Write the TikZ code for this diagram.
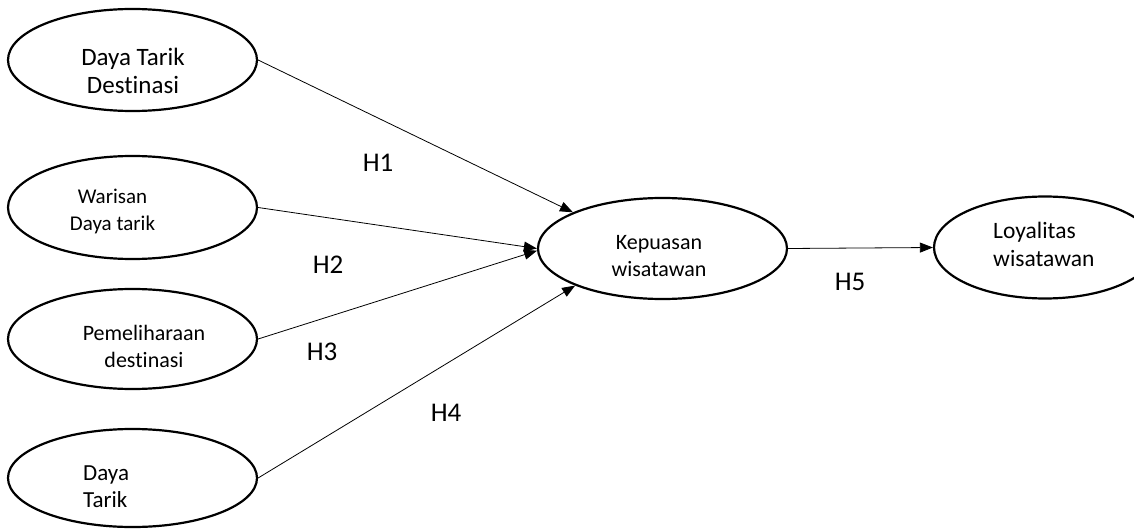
\documentclass[tikz,border=0pt]{standalone}
\usepackage{fontspec}
\setmainfont{Carlito}[Ligatures={NoCommon}]
\usetikzlibrary{shapes.geometric,arrows.meta}
\begin{document}
\begin{tikzpicture}[x=1pt,y=-1pt,
  oval/.style={draw, ellipse, line width=2.2pt, inner sep=0pt},
  lbl/.style={font=\fontsize{23}{27.5}\selectfont, align=center, inner sep=0pt},
  hyp/.style={font=\fontsize{27}{32}\selectfont, anchor=base, inner sep=0pt},
  conn/.style={line width=0.8pt, -{Triangle[length=13pt,width=10pt]}}]
\useasboundingbox (0,0) rectangle (1134,529);
\clip (0,0) rectangle (1134,529);
\node[oval, minimum width=249pt, minimum height=102pt] (e1) at (132.5,60) {};
\node[oval, minimum width=249pt, minimum height=103pt] (e2) at (132.5,207.5) {};
\node[oval, minimum width=249pt, minimum height=100pt] (e3) at (132.5,339) {};
\node[oval, minimum width=249pt, minimum height=98pt] (e4) at (132.5,478) {};
\node[oval, minimum width=249pt, minimum height=101pt] (k) at (662.5,248.5) {};
\node[oval, minimum width=222pt, minimum height=102pt] (L) at (1045,247.5) {};
\node[lbl, font=\fontsize{25}{28}\selectfont] (t1) at (133,71) {Daya Tarik\\Destinasi};
\node[lbl, font=\fontsize{21}{27}\selectfont] (t2) at (112.5,211.5) {Warisan\\Daya tarik};
\node[lbl, font=\fontsize{22}{27}\selectfont] (t3) at (144,346.5) {Pemeliharaan\\destinasi};
\node[lbl, align=left, anchor=west] (t4) at (83,486.5) {Daya\\Tarik};
\node[lbl, font=\fontsize{22}{27}\selectfont] (tk) at (659,256.5) {Kepuasan\\wisatawan};
\node[lbl, font=\fontsize{23.5}{28}\selectfont, align=left, anchor=west] (tL) at (993,244) {Loyalitas\\wisatawan};
\draw[conn] (e1.east) -- (k.158);
\draw[conn] (e2.east) -- (k.west);
\draw[conn] (e3.east) -- (k.181);
\draw[conn] (e4.east) -- (k.203);
\draw[conn] (k.east) -- (L.west);
\node[hyp] (h1) at (378,172) {H1};
\node[hyp] (h2) at (328,273) {H2};
\node[hyp] (h3) at (322,360) {H3};
\node[hyp] (h4) at (446,421) {H4};
\node[hyp] (h5) at (850,290) {H5};
\end{tikzpicture}
\end{document}
